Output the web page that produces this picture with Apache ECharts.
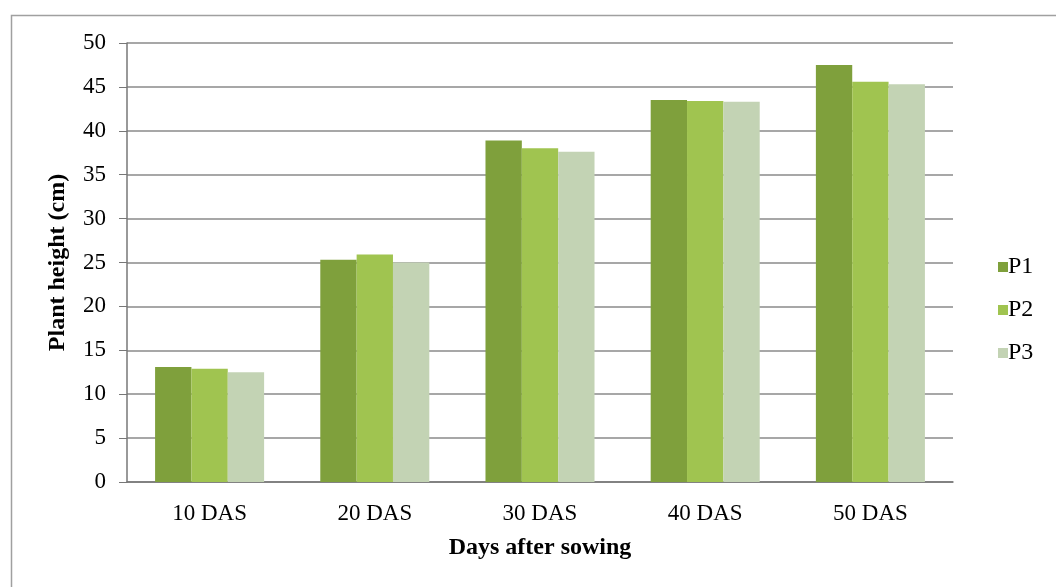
<!DOCTYPE html>
<html>
<head>
<meta charset="utf-8">
<script src="https://cdn.jsdelivr.net/npm/echarts@6/dist/echarts.min.js"></script>
<style>html,body{margin:0;padding:0;background:#fff}#c{width:1056px;height:587px}</style>
</head>
<body>
<div id="c"></div>
<script>
const categories = ['10 DAS', '20 DAS', '30 DAS', '40 DAS', '50 DAS'];
const seriesNames = ['P1', 'P2', 'P3'];
const p1 = [13.1, 25.3, 38.9, 43.5, 47.5];
const p2 = [12.9, 25.9, 38.0, 43.4, 45.6];
const p3 = [12.5, 25.0, 37.6, 43.3, 45.3];
const yTicks = [0, 5, 10, 15, 20, 25, 30, 35, 40, 45, 50];
const colors = ['#7fa03c', '#a0c450', '#c3d3b4'];

const font = 'Liberation Serif, Times New Roman, serif';
const chart = echarts.init(document.getElementById('c'));
const values = [p1, p2, p3];
chart.setOption({
  animation: false,
  backgroundColor: '#fff',
  graphic: [{
    type: 'rect', left: 9, top: 13, silent: true,
    shape: { width: 1200, height: 700 },
    style: { fill: 'none', stroke: '#a0a0a0', lineWidth: 1.5 }
  }],
  grid: { left: 127, right: 103, top: 43, bottom: 105 },
  legend: {
    orient: 'vertical', left: 993, top: 250,
    itemWidth: 10, itemHeight: 10, itemGap: 19,
    icon: 'rect',
    textStyle: { fontFamily: font, fontSize: 24, color: '#000', padding: [0, 0, 0, -5] },
    data: seriesNames
  },
  xAxis: {
    type: 'category', data: categories,
    name: 'Days after sowing', nameLocation: 'middle', nameGap: 54,
    nameTextStyle: { fontFamily: font, fontSize: 24, fontWeight: 'bold', color: '#000' },
    axisLine: { lineStyle: { color: '#777', width: 1.5 } },
    axisTick: { show: false },
    axisLabel: { fontFamily: font, fontSize: 23, color: '#000', margin: 20 }
  },
  yAxis: {
    type: 'value', min: yTicks[0], max: yTicks[yTicks.length - 1], interval: 5,
    name: 'Plant height (cm)', nameLocation: 'middle', nameGap: 57,
    nameTextStyle: { fontFamily: font, fontSize: 24, fontWeight: 'bold', color: '#000' },
    axisLine: { show: true, lineStyle: { color: '#777', width: 1.5 } },
    axisTick: { show: true, length: 8, lineStyle: { color: '#777' } },
    splitLine: { lineStyle: { color: '#8a8a8a', width: 1.5 } },
    axisLabel: { fontFamily: font, fontSize: 23, color: '#000', margin: 21 }
  },
  series: seriesNames.map((n, i) => ({
    name: n, type: 'bar', data: values[i],
    barGap: '0%', barCategoryGap: '34%',
    itemStyle: { color: colors[i] }
  }))
});
</script>
</body>
</html>
